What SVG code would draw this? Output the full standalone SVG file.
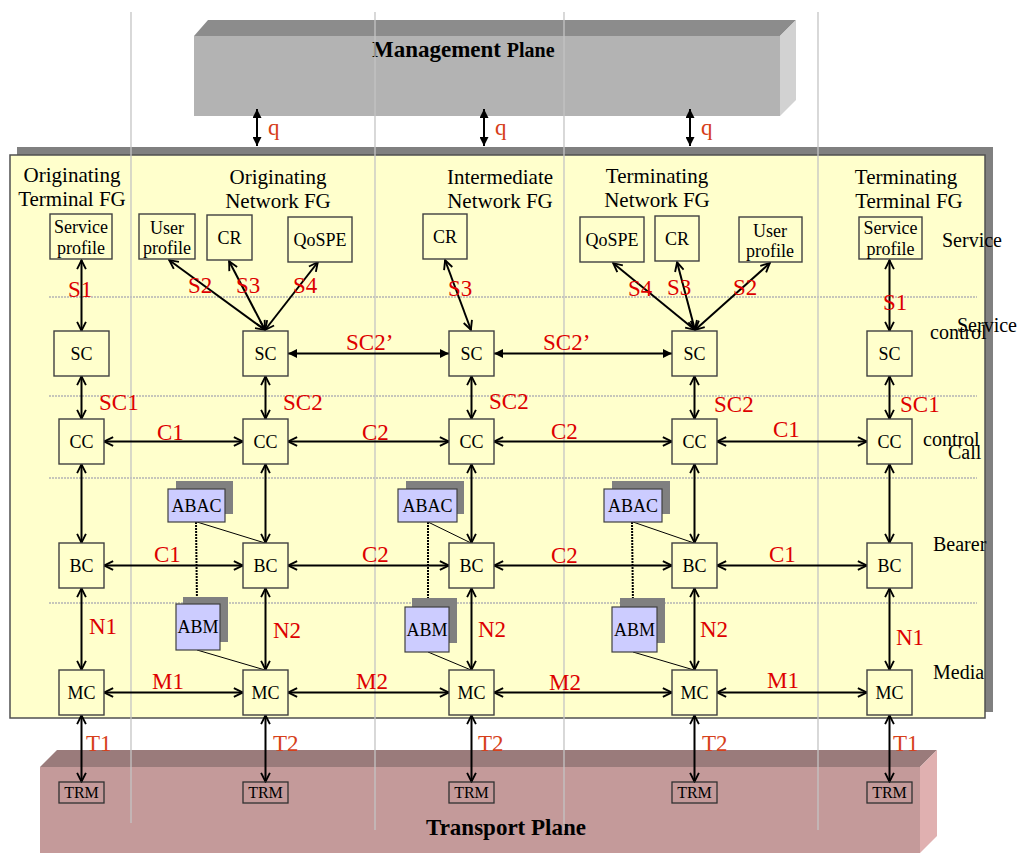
<svg xmlns="http://www.w3.org/2000/svg" width="1021" height="853" viewBox="0 0 1021 853">
<defs>
<marker id="ov" viewBox="0 0 10 10" refX="9.3" refY="5" markerWidth="11" markerHeight="11" markerUnits="userSpaceOnUse" orient="auto-start-reverse"><path d="M1,1 L9,5 L1,9" fill="none" stroke="#000" stroke-width="1.7"/></marker>
<marker id="fv" viewBox="0 0 10 10" refX="10" refY="5" markerWidth="9" markerHeight="9" markerUnits="userSpaceOnUse" orient="auto-start-reverse"><path d="M0,0 L10,5 L0,10 z" fill="#000"/></marker>
<style>
text{font-family:"Liberation Serif","Times New Roman",serif;}
.box{fill:#ffffcc;stroke:#404040;stroke-width:1.4;}
.trm{fill:none;stroke:#303030;stroke-width:1.3;}
.lav{fill:#ccccff;stroke:#404040;stroke-width:1.2;}
.shd{fill:#808080;}
.bt{font-size:18px;text-anchor:middle;fill:#000;}
.tt{font-size:16px;text-anchor:middle;fill:#000;}
.hd{font-size:21px;text-anchor:middle;fill:#000;}
.ly{font-size:20px;fill:#000;}
.lb{font-size:23px;fill:#dd0000;}
.lo{font-size:23px;fill:#d6401a;}
.ar{stroke:#000;stroke-width:2;fill:none;marker-start:url(#ov);marker-end:url(#ov);}
.af{stroke:#000;stroke-width:2;fill:none;marker-start:url(#fv);marker-end:url(#fv);}
.thin{stroke:#000;stroke-width:1;fill:none;}
.dot{stroke:#000;stroke-width:2;stroke-dasharray:2,1;fill:none;}
.hg{stroke:#b4b4b4;stroke-width:1.6;stroke-dasharray:2,1;}
.vg{stroke:#c4c4c4;stroke-width:1.3;}
</style>
</defs>

<!-- Management plane -->
<g id="management-plane">
<polygon points="194,36 208,20 796,20 780,36" fill="#8c8c8c"/>
<polygon points="780,36 796,20 796,100 780,116" fill="#d2d2d2"/>
<rect x="194" y="36" width="586" height="80" fill="#b3b3b3"/>
<text x="372" y="57" font-size="23" font-weight="bold">Management <tspan font-size="20">Plane</tspan></text>
</g>

<!-- Main panel -->
<g id="panel">
<rect x="17" y="147" width="976" height="565" fill="#808080"/>
<rect x="10" y="155" width="975" height="563" fill="#ffffcc" stroke="#505050" stroke-width="1.5"/>
</g>

<!-- Transport plane -->
<g id="transport-plane">
<polygon points="40,767 57,750 937,750 920,767" fill="#9a7b7b"/>
<polygon points="920,767 937,750 937,836 920,853" fill="#e0b0b0"/>
<rect x="40" y="767" width="880" height="86" fill="#c49a9a"/>
<text x="506" y="835" font-size="23" font-weight="bold" text-anchor="middle">Transport Plane</text>
</g>

<!-- grid lines -->
<g id="grid">
<line class="hg" x1="49" y1="297" x2="977" y2="297"/>
<line class="hg" x1="49" y1="396" x2="977" y2="396"/>
<line class="hg" x1="49" y1="478" x2="977" y2="478"/>
<line class="hg" x1="49" y1="603" x2="977" y2="603"/>
<line class="vg" x1="131" y1="12" x2="131" y2="823"/>
<line class="vg" x1="375" y1="12" x2="375" y2="830"/>
<line class="vg" x1="564" y1="12" x2="564" y2="830"/>
<line class="vg" x1="818" y1="12" x2="818" y2="830"/>
</g>

<!-- headers and layer labels -->
<g id="headers">
<text class="hd" x="72" y="182">Originating</text>
<text class="hd" x="72" y="206">Terminal FG</text>
<text class="hd" x="278" y="184">Originating</text>
<text class="hd" x="278" y="208">Network FG</text>
<text class="hd" x="500" y="184">Intermediate</text>
<text class="hd" x="500" y="208">Network FG</text>
<text class="hd" x="657" y="183">Terminating</text>
<text class="hd" x="657" y="207">Network FG</text>
<text class="hd" x="906" y="184">Terminating</text>
<text class="hd" x="909" y="208">Terminal FG</text>
<text class="ly" x="942" y="247">Service</text>
<text class="ly" x="957" y="332">Service</text>
<text class="ly" x="930" y="339">control</text>
<text class="ly" x="923" y="446">control</text>
<text class="ly" x="948" y="459">Call</text>
<text class="ly" x="933" y="551">Bearer</text>
<text class="ly" x="933" y="679">Media</text>
</g>

<!-- connectors -->
<g id="connectors">
<line class="af" x1="257" y1="109" x2="257" y2="146"/>
<line class="af" x1="484" y1="109" x2="484" y2="146"/>
<line class="af" x1="690" y1="109" x2="690" y2="146"/>
<line class="ar" x1="81.5" y1="260" x2="81.5" y2="331"/>
<line class="ar" x1="169" y1="260" x2="265" y2="330"/>
<line class="ar" x1="229" y1="261" x2="265" y2="330"/>
<line class="ar" x1="318" y1="262" x2="265" y2="330"/>
<line class="ar" x1="445" y1="260" x2="471" y2="330"/>
<line class="ar" x1="613" y1="263" x2="695" y2="330"/>
<line class="ar" x1="677" y1="262" x2="695" y2="330"/>
<line class="ar" x1="770" y1="263" x2="695" y2="330"/>
<line class="ar" x1="889.5" y1="260" x2="889.5" y2="331"/>
<line class="af" x1="288" y1="353.5" x2="449" y2="353.5"/>
<line class="af" x1="494" y1="353.5" x2="672" y2="353.5"/>
<line class="ar" x1="81.5" y1="376" x2="81.5" y2="419"/>
<line class="ar" x1="265.5" y1="376" x2="265.5" y2="419"/>
<line class="ar" x1="471.5" y1="376" x2="471.5" y2="419"/>
<line class="ar" x1="694.5" y1="376" x2="694.5" y2="419"/>
<line class="ar" x1="889.5" y1="376" x2="889.5" y2="419"/>
<line class="ar" x1="104" y1="441.5" x2="243" y2="441.5"/>
<line class="ar" x1="288" y1="441.5" x2="449" y2="441.5"/>
<line class="ar" x1="494" y1="441.5" x2="672" y2="441.5"/>
<line class="ar" x1="717" y1="441.5" x2="867" y2="441.5"/>
<line class="ar" x1="81.5" y1="464" x2="81.5" y2="543"/>
<line class="ar" x1="265.5" y1="464" x2="265.5" y2="543"/>
<line class="ar" x1="471.5" y1="464" x2="471.5" y2="543"/>
<line class="ar" x1="694.5" y1="464" x2="694.5" y2="543"/>
<line class="ar" x1="889.5" y1="464" x2="889.5" y2="543"/>
<line class="ar" x1="104" y1="565.5" x2="243" y2="565.5"/>
<line class="ar" x1="288" y1="565.5" x2="449" y2="565.5"/>
<line class="ar" x1="494" y1="565.5" x2="672" y2="565.5"/>
<line class="ar" x1="717" y1="565.5" x2="867" y2="565.5"/>
<line class="ar" x1="81.5" y1="588" x2="81.5" y2="670"/>
<line class="ar" x1="265.5" y1="588" x2="265.5" y2="670"/>
<line class="ar" x1="471.5" y1="588" x2="471.5" y2="670"/>
<line class="ar" x1="694.5" y1="588" x2="694.5" y2="670"/>
<line class="ar" x1="889.5" y1="588" x2="889.5" y2="670"/>
<line class="ar" x1="104" y1="692.5" x2="243" y2="692.5"/>
<line class="ar" x1="288" y1="692.5" x2="449" y2="692.5"/>
<line class="ar" x1="494" y1="692.5" x2="672" y2="692.5"/>
<line class="ar" x1="717" y1="692.5" x2="867" y2="692.5"/>
<line class="ar" x1="81.5" y1="715" x2="81.5" y2="782"/>
<line class="ar" x1="265.5" y1="715" x2="265.5" y2="782"/>
<line class="ar" x1="471.5" y1="715" x2="471.5" y2="782"/>
<line class="ar" x1="694.5" y1="715" x2="694.5" y2="782"/>
<line class="ar" x1="889.5" y1="715" x2="889.5" y2="782"/>
<line class="dot" x1="196" y1="522" x2="197" y2="604"/>
<line class="dot" x1="428" y1="522" x2="428" y2="607"/>
<line class="dot" x1="632" y1="522" x2="633" y2="607"/>
<line class="thin" x1="197" y1="522" x2="265" y2="543"/>
<line class="thin" x1="428" y1="522" x2="471" y2="543"/>
<line class="thin" x1="633" y1="522" x2="694" y2="543"/>
<line class="thin" x1="197" y1="650" x2="265" y2="670"/>
<line class="thin" x1="428" y1="652" x2="471" y2="670"/>
<line class="thin" x1="633" y1="652" x2="694" y2="670"/>
</g>

<!-- labels -->
<g id="labels">
<text class="lo" x="268" y="135">q</text>
<text class="lo" x="495" y="135">q</text>
<text class="lo" x="701" y="135">q</text>
<text class="lb" x="68" y="297">S1</text>
<text class="lb" x="188" y="293">S2</text>
<text class="lb" x="236" y="293">S3</text>
<text class="lb" x="293" y="293">S4</text>
<text class="lb" x="448" y="296">S3</text>
<text class="lb" x="628" y="296">S4</text>
<text class="lb" x="667" y="295">S3</text>
<text class="lb" x="733" y="295">S2</text>
<text class="lb" x="883" y="310">S1</text>
<text class="lb" x="346" y="350">SC2’</text>
<text class="lb" x="543" y="350">SC2’</text>
<text class="lb" x="99" y="410">SC1</text>
<text class="lb" x="283" y="410">SC2</text>
<text class="lb" x="489" y="409">SC2</text>
<text class="lb" x="714" y="412">SC2</text>
<text class="lb" x="900" y="412">SC1</text>
<text class="lb" x="157" y="440">C1</text>
<text class="lb" x="362" y="440">C2</text>
<text class="lb" x="551" y="439">C2</text>
<text class="lb" x="773" y="437">C1</text>
<text class="lb" x="154" y="562">C1</text>
<text class="lb" x="362" y="562">C2</text>
<text class="lb" x="551" y="563">C2</text>
<text class="lb" x="769" y="562">C1</text>
<text class="lb" x="89" y="634">N1</text>
<text class="lb" x="273" y="638">N2</text>
<text class="lb" x="478" y="637">N2</text>
<text class="lb" x="700" y="637">N2</text>
<text class="lb" x="896" y="645">N1</text>
<text class="lb" x="152" y="689">M1</text>
<text class="lb" x="356" y="689">M2</text>
<text class="lb" x="549" y="690">M2</text>
<text class="lb" x="767" y="688">M1</text>
<text class="lo" x="86" y="751">T1</text>
<text class="lo" x="273" y="751">T2</text>
<text class="lo" x="478" y="751">T2</text>
<text class="lo" x="702" y="751">T2</text>
<text class="lo" x="893" y="751">T1</text>
</g>

<!-- column 1 -->
<g id="sp1"><rect class="box" x="50" y="214" width="62" height="45"/><text class="bt" x="81" y="233">Service</text><text class="bt" x="81" y="254">profile</text></g>
<g id="sc1"><rect class="box" x="54" y="331" width="55" height="45"/><text class="bt" x="81.5" y="360">SC</text></g>
<g id="cc1"><rect class="box" x="59" y="419" width="45" height="45"/><text class="bt" x="81.5" y="448">CC</text></g>
<g id="bc1"><rect class="box" x="59" y="543" width="45" height="45"/><text class="bt" x="81.5" y="572">BC</text></g>
<g id="mc1"><rect class="box" x="59" y="670" width="45" height="45"/><text class="bt" x="81.5" y="699">MC</text></g>
<g id="trm1"><rect class="trm" x="59" y="782" width="45" height="21"/><text class="tt" x="81.5" y="798">TRM</text></g>

<!-- column 2 -->
<g id="up2"><rect class="box" x="139" y="214" width="56" height="45"/><text class="bt" x="167" y="234">User</text><text class="bt" x="167" y="254">profile</text></g>
<g id="cr2"><rect class="box" x="207" y="215" width="45" height="45"/><text class="bt" x="229.5" y="244">CR</text></g>
<g id="qos2"><rect class="box" x="288" y="217" width="64" height="45"/><text class="bt" x="320" y="246">QoSPE</text></g>
<g id="sc2"><rect class="box" x="243" y="331" width="45" height="45"/><text class="bt" x="265.5" y="360">SC</text></g>
<g id="cc2"><rect class="box" x="243" y="419" width="45" height="45"/><text class="bt" x="265.5" y="448">CC</text></g>
<g id="abac2"><rect class="shd" x="176" y="481" width="57" height="33"/><rect class="lav" x="168" y="489" width="57" height="33"/><text class="bt" x="196.5" y="512">ABAC</text></g>
<g id="bc2"><rect class="box" x="243" y="543" width="45" height="45"/><text class="bt" x="265.5" y="572">BC</text></g>
<g id="abm2"><rect class="shd" x="183" y="597" width="45" height="45"/><rect class="lav" x="176" y="604" width="44" height="46"/><text class="bt" x="198" y="633">ABM</text></g>
<g id="mc2"><rect class="box" x="243" y="670" width="45" height="45"/><text class="bt" x="265.5" y="699">MC</text></g>
<g id="trm2"><rect class="trm" x="243" y="782" width="45" height="21"/><text class="tt" x="265.5" y="798">TRM</text></g>

<!-- column 3 -->
<g id="cr3"><rect class="box" x="423" y="214" width="44" height="45"/><text class="bt" x="445" y="243">CR</text></g>
<g id="sc3"><rect class="box" x="449" y="331" width="45" height="45"/><text class="bt" x="471.5" y="360">SC</text></g>
<g id="cc3"><rect class="box" x="449" y="419" width="45" height="45"/><text class="bt" x="471.5" y="448">CC</text></g>
<g id="abac3"><rect class="shd" x="406" y="481" width="58" height="33"/><rect class="lav" x="398" y="489" width="59" height="33"/><text class="bt" x="427.5" y="512">ABAC</text></g>
<g id="bc3"><rect class="box" x="449" y="543" width="45" height="45"/><text class="bt" x="471.5" y="572">BC</text></g>
<g id="abm3"><rect class="shd" x="412" y="598" width="45" height="45"/><rect class="lav" x="405" y="607" width="44" height="45"/><text class="bt" x="427" y="636">ABM</text></g>
<g id="mc3"><rect class="box" x="449" y="670" width="45" height="45"/><text class="bt" x="471.5" y="699">MC</text></g>
<g id="trm3"><rect class="trm" x="449" y="782" width="45" height="21"/><text class="tt" x="471.5" y="798">TRM</text></g>

<!-- column 4 -->
<g id="qos4"><rect class="box" x="580" y="217" width="64" height="45"/><text class="bt" x="612" y="246">QoSPE</text></g>
<g id="cr4"><rect class="box" x="655" y="216" width="44" height="45"/><text class="bt" x="677" y="245">CR</text></g>
<g id="up4"><rect class="box" x="739" y="217" width="63" height="45"/><text class="bt" x="770" y="237">User</text><text class="bt" x="770" y="257">profile</text></g>
<g id="sc4"><rect class="box" x="672" y="331" width="45" height="45"/><text class="bt" x="694.5" y="360">SC</text></g>
<g id="cc4"><rect class="box" x="672" y="419" width="45" height="45"/><text class="bt" x="694.5" y="448">CC</text></g>
<g id="abac4"><rect class="shd" x="612" y="481" width="58" height="33"/><rect class="lav" x="604" y="489" width="58" height="33"/><text class="bt" x="633" y="512">ABAC</text></g>
<g id="bc4"><rect class="box" x="672" y="543" width="45" height="45"/><text class="bt" x="694.5" y="572">BC</text></g>
<g id="abm4"><rect class="shd" x="620" y="598" width="45" height="45"/><rect class="lav" x="612" y="607" width="45" height="45"/><text class="bt" x="634.5" y="636">ABM</text></g>
<g id="mc4"><rect class="box" x="672" y="670" width="45" height="45"/><text class="bt" x="694.5" y="699">MC</text></g>
<g id="trm4"><rect class="trm" x="672" y="782" width="45" height="21"/><text class="tt" x="694.5" y="798">TRM</text></g>

<!-- column 5 -->
<g id="sp5"><rect class="box" x="859" y="217" width="63" height="42"/><text class="bt" x="890.5" y="234">Service</text><text class="bt" x="890.5" y="255">profile</text></g>
<g id="sc5"><rect class="box" x="867" y="331" width="45" height="45"/><text class="bt" x="889.5" y="360">SC</text></g>
<g id="cc5"><rect class="box" x="867" y="419" width="45" height="45"/><text class="bt" x="889.5" y="448">CC</text></g>
<g id="bc5"><rect class="box" x="867" y="543" width="45" height="45"/><text class="bt" x="889.5" y="572">BC</text></g>
<g id="mc5"><rect class="box" x="867" y="670" width="45" height="45"/><text class="bt" x="889.5" y="699">MC</text></g>
<g id="trm5"><rect class="trm" x="867" y="782" width="45" height="21"/><text class="tt" x="889.5" y="798">TRM</text></g>
</svg>
